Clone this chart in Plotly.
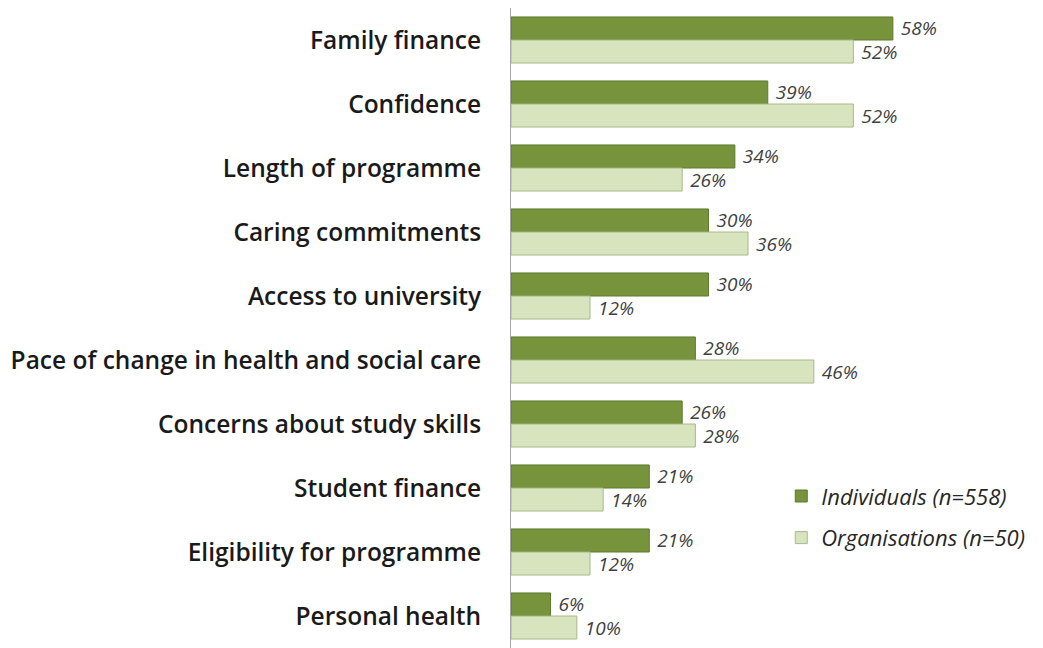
import plotly.graph_objects as go

categories = [
    "Family finance",
    "Confidence",
    "Length of programme",
    "Caring commitments",
    "Access to university",
    "Pace of change in health and social care",
    "Concerns about study skills",
    "Student finance",
    "Eligibility for programme",
    "Personal health",
]
individuals = [58, 39, 34, 30, 30, 28, 26, 21, 21, 6]
organisations = [52, 52, 26, 36, 12, 46, 28, 14, 12, 10]

value_font = dict(family="Open Sans", size=19, color="#404040", style="italic")

fig = go.Figure()

fig.add_trace(go.Bar(
    y=categories, x=individuals, orientation="h",
    name="Individuals (n=558)", legendgroup="ind",
    marker=dict(color="#77933C", line=dict(color="#5E7A2C", width=1)),
    text=[f"\u00a0{v}%" for v in individuals], textposition="outside",
    textfont=value_font, cliponaxis=False, constraintext="none",
))
fig.add_trace(go.Bar(
    y=categories, x=organisations, orientation="h",
    name="Organisations (n=50)", legendgroup="org",
    marker=dict(color="#D7E4BD", line=dict(color="#A9B88C", width=1)),
    text=[f"\u00a0{v}%" for v in organisations], textposition="outside",
    textfont=value_font, cliponaxis=False, constraintext="none",
))

fig.update_layout(
    width=1043, height=648,
    margin=dict(l=503, r=8, t=0, b=8),
    barmode="group", bargap=0.28, bargroupgap=0,
    plot_bgcolor="white", paper_bgcolor="white",
    font=dict(family="Open Sans", color="#262626"),
    legend=dict(
        x=0.508, y=0.27, xanchor="left", yanchor="top",
        traceorder="grouped", tracegroupgap=10,
        font=dict(family="Open Sans", size=22, color="#262626", style="italic"),
        bgcolor="rgba(0,0,0,0)",
    ),
)
fig.update_xaxes(range=[0, 80.8], visible=False, showgrid=False)
fig.update_yaxes(
    autorange="reversed", showline=True, linecolor="#A6A6A6", linewidth=1,
    ticks="", ticklabelstandoff=24,
    tickfont=dict(family="Open Sans", size=24.5, color="#1a1a1a", weight=600),
    showgrid=False,
)

fig.write_html("out.html")
